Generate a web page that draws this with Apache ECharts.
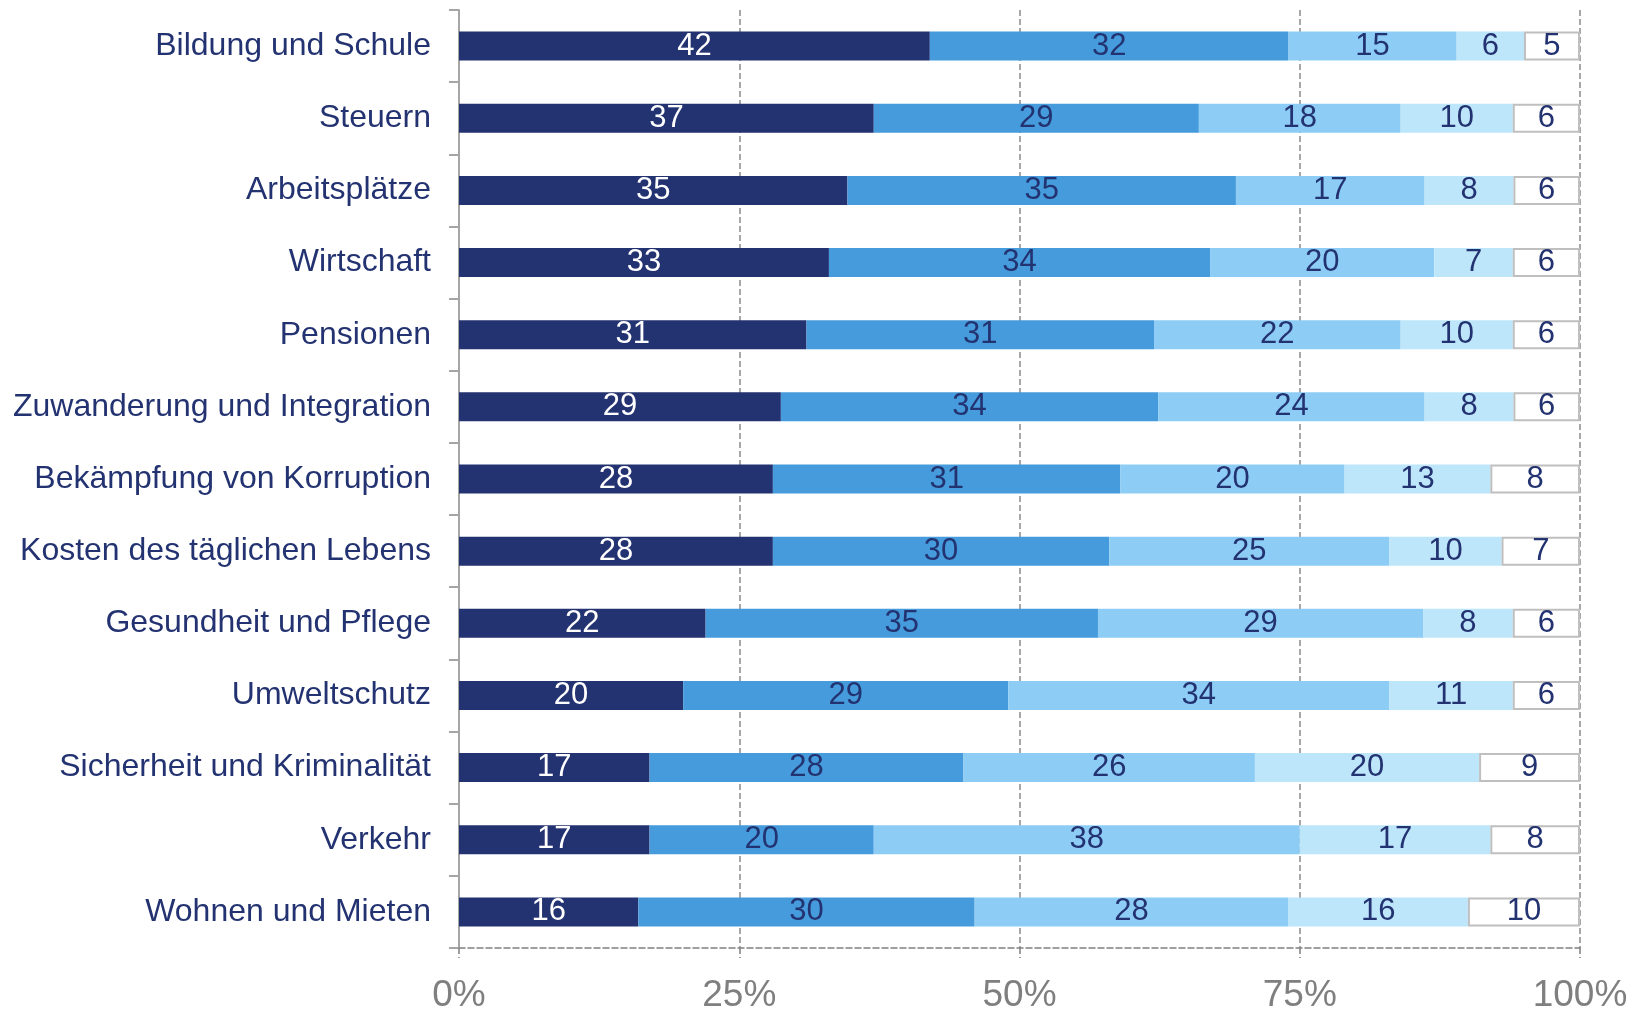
<!DOCTYPE html>
<html>
<head>
<meta charset="utf-8">
<script src="https://cdn.jsdelivr.net/npm/echarts@6/dist/echarts.min.js"></script>
<style>
  html, body { margin: 0; padding: 0; background: #fff; }
  #chart { width: 1645px; height: 1011px; }
</style>
</head>
<body>
<div id="chart"></div>
<script>
var categories = [
    'Bildung und Schule', 'Steuern', 'Arbeitsplätze', 'Wirtschaft', 'Pensionen',
    'Zuwanderung und Integration', 'Bekämpfung von Korruption', 'Kosten des täglichen Lebens',
    'Gesundheit und Pflege', 'Umweltschutz', 'Sicherheit und Kriminalität', 'Verkehr',
    'Wohnen und Mieten'
];
var seriesNames = ['sehr wichtig', 'eher wichtig', 'weniger wichtig', 'gar nicht wichtig', 'weiß nicht'];
var s1 = [42, 37, 35, 33, 31, 29, 28, 28, 22, 20, 17, 17, 16];
var s2 = [32, 29, 35, 34, 31, 34, 31, 30, 35, 29, 28, 20, 30];
var s3 = [15, 18, 17, 20, 22, 24, 20, 25, 29, 34, 26, 38, 28];
var s4 = [6, 10, 8, 7, 10, 8, 13, 10, 8, 11, 20, 17, 16];
var s5 = [5, 6, 6, 6, 6, 6, 8, 7, 6, 6, 9, 8, 10];
var xTicks = [0, 25, 50, 75, 100];

var colors = ['#233270', '#459bdb', '#8dcdf5', '#bde6fb', '#ffffff'];
var labelColors = ['#ffffff', '#233270', '#233270', '#233270', '#233270'];
var chart = echarts.init(document.getElementById('chart'));
var all = [s1, s2, s3, s4, s5];

// row totals, so every bar fills 100 %
var totals = categories.map(function (c, i) {
    return all.reduce(function (sum, arr) { return sum + arr[i]; }, 0);
});

var series = all.map(function (arr, k) {
    return {
        name: seriesNames[k],
        type: 'bar',
        stack: 'total',
        barWidth: 29,
        data: arr.map(function (v, i) {
            return { value: v / totals[i] * 100, raw: v };
        }),
        itemStyle: {
            color: colors[k],
            borderColor: k === 4 ? '#bfbfbf' : colors[k],
            borderWidth: k === 4 ? 2 : 0
        },
        label: {
            show: true,
            position: 'inside',
            color: labelColors[k],
            fontSize: 31,
            fontFamily: 'Liberation Sans',
            formatter: function (p) { return p.data.raw; }
        }
    };
});

option = {
    animation: false,
    grid: { left: 459, right: 65, top: 10, bottom: 63, containLabel: false, outerBoundsMode: 'none' },
    xAxis: {
        type: 'value',
        min: 0,
        max: 100,
        interval: 25,
        axisLine: { show: true, lineStyle: { color: '#808080', type: 'dashed', width: 1.5 } },
        axisTick: { show: true, length: 10, lineStyle: { color: '#808080', type: 'dashed', width: 1.5 } },
        splitLine: { show: true, lineStyle: { color: '#8c8c8c', type: 'dashed', width: 1.5 } },
        axisLabel: {
            color: '#7f7f7f',
            fontSize: 37,
            fontFamily: 'Liberation Sans',
            margin: 29,
            customValues: xTicks,
            formatter: '{value}%'
        }
    },
    yAxis: {
        type: 'category',
        data: categories,
        inverse: true,
        axisLine: { show: true, lineStyle: { color: '#a6a6a6', width: 2 } },
        axisTick: { show: true, length: 10, lineStyle: { color: '#a6a6a6', width: 2 } },
        axisLabel: {
            color: '#233270',
            fontSize: 32,
            fontFamily: 'Liberation Sans',
            margin: 28
        }
    },
    series: series
};
chart.setOption(option);
</script>
</body>
</html>
